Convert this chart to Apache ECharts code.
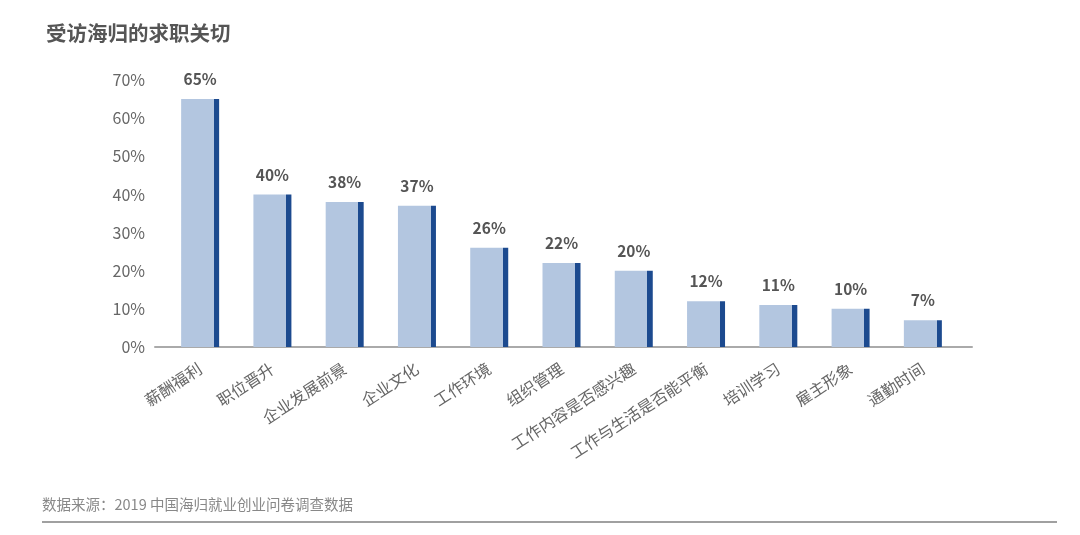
<!DOCTYPE html>
<html><head><meta charset="utf-8">
<script src="https://cdn.jsdelivr.net/npm/echarts@6/dist/echarts.min.js"></script>
<style>html,body{margin:0;padding:0;background:#fff}#c{width:1080px;height:535px}</style>
</head><body><div id="c"></div>
<script>
const title = '受访海归的求职关切';
const source = '数据来源：2019 中国海归就业创业问卷调查数据';
const categories = ['薪酬福利','职位晋升','企业发展前景','企业文化','工作环境','组织管理','工作内容是否感兴趣','工作与生活是否能平衡','培训学习','雇主形象','通勤时间'];
const values = [65,40,38,37,26,22,20,12,11,10,7];
const yTicks = {min:0, max:70, interval:10};

const font = '"Noto Sans CJK SC", "Noto Sans", sans-serif';
const chart = echarts.init(document.getElementById('c'));
chart.setOption({
  backgroundColor:'#fff',
  animation:false,
  textStyle:{fontFamily:font},
  title:{text:title,left:41,top:18,textStyle:{fontSize:20.5,fontWeight:'bold',color:'#555',fontFamily:font}},
  graphic:[
    {type:'text',left:42,top:497,style:{text:source,fontSize:14.5,fill:'#888',fontFamily:font}},
    {type:'line',shape:{x1:42,y1:522,x2:1057,y2:522},style:{stroke:'#a0a0a0',lineWidth:2}}
  ],
  grid:[
    {left:164,right:121,top:80,bottom:188,containLabel:false},
    {left:155,right:108,top:80,bottom:188,containLabel:false}
  ],
  xAxis:[
    {type:'category',gridIndex:0,data:categories,axisLine:{show:false},axisTick:{show:false},
     axisLabel:{rotate:33,interval:0,fontSize:16,color:'#666',margin:20,fontFamily:font}},
    {type:'category',gridIndex:1,data:[''],axisLine:{show:true,lineStyle:{color:'#aaa',width:2}},axisTick:{show:false},axisLabel:{show:false}}
  ],
  yAxis:[
    {type:'value',gridIndex:0,min:yTicks.min,max:yTicks.max,interval:yTicks.interval,
     axisLabel:{formatter:'{value}%',fontSize:16,color:'#666',margin:19,fontFamily:font},
     splitLine:{show:false},axisLine:{show:false},axisTick:{show:false}},
    {type:'value',gridIndex:1,min:0,max:70,show:false}
  ],
  series:[{
    type:'bar',xAxisIndex:0,yAxisIndex:0,data:values,barWidth:38,
    itemStyle:{color:new echarts.graphic.LinearGradient(0,0,1,0,[
      {offset:0,color:'#b3c6e0'},{offset:0.86,color:'#b3c6e0'},
      {offset:0.86,color:'#1c4a8f'},{offset:1,color:'#1c4a8f'}])},
    label:{show:true,position:'top',distance:12,formatter:'{c}%',fontSize:15.5,fontWeight:'bold',color:'#555',fontFamily:font}
  }]
});
</script></body></html>
